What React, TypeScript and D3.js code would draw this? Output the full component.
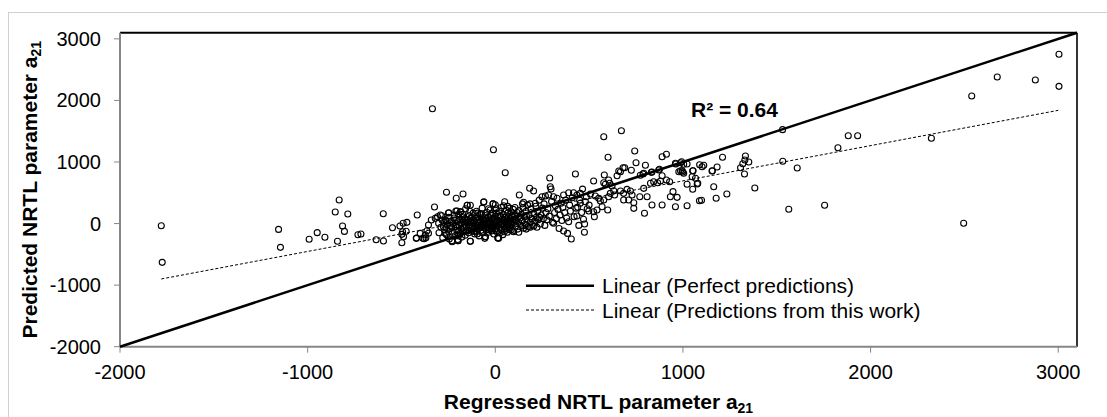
import React from 'react';
import * as d3 from 'd3';

const xTicks = [-2000, -1000, 0, 1000, 2000, 3000];
const yTicks = [-2000, -1000, 0, 1000, 2000, 3000];
const xDomain = [-2000, 3100];
const yDomain = [-2000, 3100];

// Perfect predictions line (y = x) and fitted trend line
const perfectRange = [-2000, 3100];
const trendRange = [-1780, 3000];
const trendSlope = 0.573;
const trendIntercept = 120;

const legendLabels = ['Linear (Perfect predictions)', 'Linear (Predictions from this work)'];
const r2Label = 'R² = 0.64';

// [regressed a21, predicted a21]
const leftPoints: [number, number][] = [
  [-1780, -35], [-1775, -630], [-1155, -95], [-1145, -386], [-992, -256], [-949, -148], [-908, -223],
  [-853, 188], [-832, 383], [-841, -288], [-814, -40], [-804, -127], [-786, 155], [-732, -181], [-716, -170],
  [-635, -262], [-597, 160], [-596, -283], [-548, -67], [-508, -40], [-491, 4], [-471, 20], [-498, -311],
  [-489, -213], [-498, -175], [-494, -132], [-475, -126], [-420, -235], [-416, 139], [-379, -246], [-400, -160],
  [-370, -230], [-386, -240], [-421, -240], [-335, 1865], [-324, 269], [-260, 508], [-208, 410], [-172, 480],
  [-10, 1200], [-356, -158], [-341, 58], [-320, 85], [-308, 111], [-293, 139], [-284, 58], [-302, 4],
  [-276, -50], [-267, -158], [-249, -132], [-356, -24], [-364, -116], [-373, -186], [-247, 176], [-204, 204],
  [-186, 190], [-61, 355], [-12, 320], [-231, -278], [-199, -278], [-133, -288], [-53, -213], [14, -235],
  [-149, 297], [-133, 297],
];

const clusterPoints: [number, number][] = [
  [-300, -150], [-290, -60], [-285, 128], [-280, -230], [-275, 20], [-270, -100], [-265, 60], [-260, -180],
  [-255, -20], [-250, 172], [-248, 100], [-245, -250], [-240, -80], [-235, 40], [-230, -295], [-228, -140],
  [-225, 0], [-220, 90], [-215, -200], [-212, -50], [-210, 204], [-205, -110], [-202, 30], [-200, -260],
  [-198, -278], [-195, 150], [-192, -30], [-190, 70], [-188, -160], [-185, 190], [-182, -90], [-180, 10],
  [-178, -220], [-175, 110], [-172, -60], [-170, 40], [-168, -130], [-165, -10], [-162, 80], [-160, -190],
  [-158, 240], [-155, -40], [-152, 20], [-150, 297], [-148, -100], [-145, 60], [-142, -150], [-140, -20],
  [-138, 130], [-135, -70], [-133, -288], [-130, 30], [-128, -120], [-125, 100], [-122, -40], [-120, 0],
  [-118, 170], [-115, -90], [-112, 50], [-110, -170], [-108, -10], [-105, 80], [-102, -60], [-100, 200],
  [-98, -130], [-96, 20], [-94, -30], [-92, 110], [-90, -80], [-88, 60], [-86, -200], [-84, 0], [-82, 150],
  [-80, -50], [-78, 40], [-76, -110], [-74, 90], [-72, -20], [-70, 250], [-68, -150], [-66, 10], [-64, 70],
  [-62, 345], [-60, -70], [-58, 30], [-56, -240], [-55, 130], [-53, -213], [-52, -30], [-50, 60], [-48, -100],
  [-46, 0], [-44, 180], [-42, -60], [-40, 20], [-38, 100], [-36, -140], [-34, -10], [-32, 50], [-30, -80],
  [-28, 220], [-26, 30], [-24, -40], [-22, 140], [-20, -120], [-18, 0], [-16, 80], [-14, -60], [-12, 320],
  [-10, 10], [-8, -170], [-6, 60], [-4, -30], [-2, 120], [0, 306],
  [2, -90], [4, 20], [6, 170], [8, -40], [10, 60], [12, -150], [14, -235], [16, 100], [18, -240], [20, 0],
  [22, 200], [24, -70], [26, 40], [28, 130], [30, -20], [32, 260], [34, -110], [36, 70], [38, 10], [40, -180],
  [42, 150], [44, 290], [46, -50], [48, -132], [50, 355], [52, 30], [54, 100], [56, -80], [58, 220], [60, 0],
  [62, 60], [64, -140], [66, 170], [68, -30], [70, 110], [72, 40], [74, -100], [76, 250], [78, 10], [80, 80],
  [82, -60], [84, 190], [86, 30], [88, -20], [90, 140], [92, -120], [94, 70], [96, 230], [98, -132], [100, 20],
  [104, 120], [108, -40], [112, 60], [116, 180], [120, -90], [124, 20], [128, 464], [132, 90], [136, -30],
  [140, 150], [144, 40], [148, 260], [151, -77], [151, 345], [156, 110], [160, -10], [164, 200], [168, 60],
  [172, 300], [176, -50], [180, 140], [183, 573], [186, 20], [190, 240], [194, 80], [198, -20], [204, 529],
  [206, 160], [210, 40], [213, 329], [218, 100], [222, -60], [226, 200], [230, 60], [234, 380], [240, -6],
  [244, 140], [249, 436], [252, 250], [256, 80], [260, 320], [264, -30], [267, 448], [270, 180],
  [275, 60], [280, 240], [284, 464], [288, 120], [290, 740], [293, 599], [297, 561], [300, 360], [305, 20],
  [311, 436], [311, 4], [316, 180], [320, 290], [325, 80], [329, 410], [334, 230], [340, -80], [345, 140],
  [350, 330], [355, 50], [360, 260], [364, 464], [364, -120], [370, 180], [375, 380], [380, 90], [385, -160],
  [391, 501], [391, 30], [396, 300], [400, 200], [405, -250], [410, 420], [417, 501], [420, 110], [427, 805],
  [430, 250], [435, 464], [435, 123], [439, 264], [445, -30], [450, 380], [453, 329], [453, 491], [460, 180],
  [465, 560], [470, 70], [476, -6], [475, -141], [480, 355], [485, 436], [490, 240], [498, 204], [500, 300],
  [-262, 40], [-238, -30], [-218, 140], [-196, -200], [-176, 60], [-156, -120], [-136, 200], [-116, 30],
  [-96, -170], [-76, 160], [-56, -10], [-36, 240], [-16, -90], [5, 240], [25, -150], [45, 60], [65, 280],
  [85, -100], [105, 260], [125, -140], [145, 320], [165, -90], [185, 320], [205, -40],
  [-232, -60], [-214, 60], [-194, -110], [-174, 150], [-154, -60], [-134, 80], [-114, -130], [-94, 170],
  [-74, -60], [-54, 90], [-34, -100], [-14, 170], [6, -120], [26, 110], [46, -10], [66, -60], [86, 120],
  [106, 60], [126, 210], [146, -40], [166, 120], [186, -60], [216, 280], [236, 100],
];

const midPoints: [number, number][] = [
  [524, 691], [581, 789], [578, 664], [587, 638], [604, 708], [649, 777], [667, 842], [681, 907], [690, 907],
  [658, 853], [725, 867], [791, 816], [832, 832], [871, 870], [889, 777], [960, 979], [1004, 963], [978, 842],
  [996, 858], [1004, 816], [1054, 858], [1049, 760], [1076, 643], [1052, 557], [507, 480], [533, 448],
  [551, 410], [560, 367], [578, 383], [524, 193], [528, 111], [542, 220], [569, 274], [599, 220], [610, 654],
  [622, 610], [631, 534], [613, 491], [636, 464], [604, 436], [667, 529], [684, 491], [702, 556], [720, 529],
  [729, 464], [711, 383], [684, 383], [738, 339], [738, 247], [770, 436], [791, 572], [809, 436], [827, 654],
  [844, 680], [865, 664], [880, 691], [912, 708], [929, 680], [947, 518], [969, 426], [933, 436], [1022, 638],
  [835, 301], [889, 301], [960, 274], [1022, 290], [1088, 371], [795, 167],
];

const rightPoints: [number, number][] = [
  [53, 826], [578, 1411], [672, 1508], [601, 1076], [743, 1178], [750, 988], [800, 946], [889, 1086],
  [912, 1125], [835, 837], [787, 806], [773, 784], [875, 881], [962, 967], [987, 988], [993, 1005], [1022, 967],
  [987, 858], [999, 838], [1052, 858], [1089, 956], [1102, 923], [1067, 735], [1079, 654], [1099, 378],
  [1157, 858], [1182, 919], [1211, 1076], [1164, 599], [1177, 410], [1234, 480], [1307, 907], [1319, 972],
  [1330, 1032], [1333, 1097], [1328, 805], [1351, 1000], [1383, 578], [1532, 1011], [1531, 1525], [1609, 902],
  [1564, 232], [1755, 297], [1826, 1232], [1881, 1427], [1931, 1427], [2324, 1385], [2496, 4], [2539, 2072],
  [2675, 2380], [2878, 2332], [3004, 2749], [3004, 2229], [1111, 946], [1155, 853],
];

const W = 1107;
const H = 417;
const M = { left: 120, right: 1077, top: 32.7, bottom: 346.7 };
const FONT = '"Liberation Sans", Arial, sans-serif';

export default function App() {
  const x = d3.scaleLinear().domain(xDomain).range([M.left, M.right]);
  const y = d3.scaleLinear().domain(yDomain).range([M.bottom, M.top]);
  const all = [...leftPoints, ...clusterPoints, ...midPoints, ...rightPoints];
  const line = d3.line<number>().x((d) => x(d)).y((d) => y(d));
  const perfectPath = line(perfectRange) || '';
  const trendPath = d3
    .line<number>()
    .x((d) => x(d))
    .y((d) => y(trendSlope * d + trendIntercept))(trendRange) || '';
  const axisGray = '#868686';
  const cx = (M.left + M.right) / 2;
  const cy = (M.top + M.bottom) / 2;
  const legX = 526;
  const legY = [285.7, 310];
  return (
    <svg width={W} height={H} style={{ position: 'absolute', left: 0, top: 0, background: '#fff' }} fontFamily={FONT}>
      <rect x={8.5} y={12.5} width={1110} height={420} fill="#fff" stroke="#d0d0d0" strokeWidth={1} />
      {/* plot frame */}
      <line x1={M.left} x2={M.right} y1={M.top} y2={M.top} stroke="#000" strokeWidth={2} />
      <line x1={M.right} x2={M.right} y1={M.top} y2={M.bottom} stroke="#333" strokeWidth={2} />
      <line x1={M.left} x2={M.left} y1={M.top} y2={M.bottom} stroke={axisGray} strokeWidth={2} />
      <line x1={M.left} x2={M.right} y1={M.bottom} y2={M.bottom} stroke={axisGray} strokeWidth={2} />
      {xTicks.map((t) => (
        <g key={'xt' + t}>
          <line x1={x(t)} x2={x(t)} y1={M.bottom} y2={M.bottom + 6} stroke={axisGray} strokeWidth={1} />
          <text x={x(t)} y={379} textAnchor="middle" fontSize={20} fill="#000">{t}</text>
        </g>
      ))}
      {yTicks.map((t) => (
        <g key={'yt' + t}>
          <line x1={M.left - 6} x2={M.left} y1={y(t)} y2={y(t)} stroke={axisGray} strokeWidth={1} />
          <text x={101} y={y(t) + 7} textAnchor="end" fontSize={20} fill="#000">{t}</text>
        </g>
      ))}
      {/* perfect line */}
      <path d={perfectPath} stroke="#000" strokeWidth={2.5} fill="none" />
      {/* markers */}
      {all.map((p, i) => (
        <circle key={i} cx={x(p[0])} cy={y(p[1])} r={3} fill="none" stroke="#000" strokeWidth={1.1} />
      ))}
      {/* trend line */}
      <path d={trendPath} stroke="#000" strokeWidth={1} strokeDasharray="3,2" fill="none" />
      {/* R2 label */}
      <text x={691} y={116.5} fontSize={21} fontWeight="bold" fill="#000">{r2Label}</text>
      {/* legend */}
      <line x1={legX} x2={legX + 68} y1={legY[0]} y2={legY[0]} stroke="#000" strokeWidth={2.5} />
      <line x1={legX} x2={legX + 68} y1={legY[1]} y2={legY[1]} stroke="#000" strokeWidth={1} strokeDasharray="3,2" />
      {legendLabels.map((l, i) => (
        <text key={l} x={602} y={legY[i] + 7.5} fontSize={21} fill="#000">{l}</text>
      ))}
      {/* axis titles */}
      <text x={cx} y={409} textAnchor="middle" fontSize={21} fontWeight="bold" fill="#000">
        Regressed NRTL parameter a<tspan fontSize={14} dy={4}>21</tspan>
      </text>
      <text transform={`translate(37,${cy}) rotate(-90)`} textAnchor="middle" fontSize={21} fontWeight="bold" fill="#000">
        Predicted NRTL parameter a<tspan fontSize={14} dy={4}>21</tspan>
      </text>
    </svg>
  );
}
